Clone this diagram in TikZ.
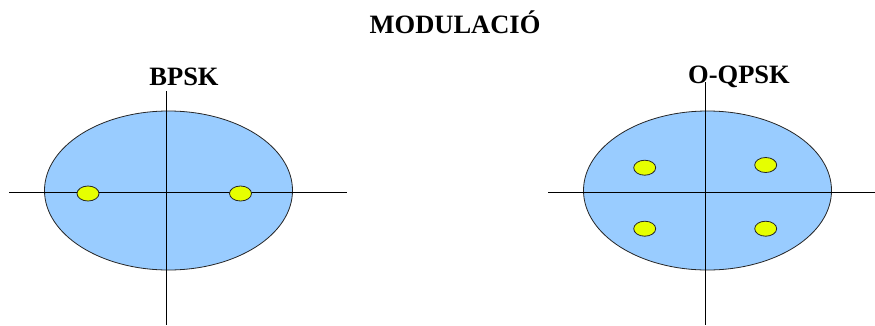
\documentclass[tikz,border=0pt]{standalone}
\usepackage{fontspec}
\setmainfont{Liberation Serif}
\usetikzlibrary{
  positioning,
  shapes.geometric
}
\definecolor{planeblue}{RGB}{153,204,255}
\definecolor{dotyellow}{RGB}{230,255,0}
\tikzset{plane/.style={
  ellipse,
  draw=black!85, line width=0.8pt,
  fill=planeblue,
  minimum width=248pt, minimum height=159pt,
  inner sep=0pt
}}
\tikzset{symbol/.style={
  ellipse,
  draw=black!85, line width=0.8pt,
  fill=dotyellow,
  minimum width=22pt, minimum height=15pt,
  inner sep=0pt
}}
\tikzset{axis/.style={
  draw, line width=0.9pt
}}
\tikzset{heading/.style={
  font=\bfseries\fontsize{26.5}{30}\selectfont,
  inner sep=0pt, anchor=base
}}

\begin{document}
\begin{tikzpicture}[x=1pt, y=-1pt]
  \useasboundingbox (0,0) rectangle (875,325);
  \node [heading] (title) at (455,33) {MODULACIÓ};

  % BPSK
  \node [plane] (bpsk) at (168.5,190.5) {};
  \coordinate (bpsk-w) at (9,192);
  \coordinate (bpsk-e) at (347,192);
  \coordinate (bpsk-n) at (166.5,91);
  \coordinate (bpsk-s) at (166.5,325);
  \draw [axis] (bpsk-w) -- (bpsk-e);
  \draw [axis] (bpsk-n) -- (bpsk-s);
  \node [symbol] (b1) at (88,193.5) {};
  \node [symbol] (b2) at (240.5,193.5) {};
  \node [heading] (bpsk-label) at (184,85) {BPSK};

  % O-QPSK
  \node [plane] (oqpsk) at (707.5,190.5) {};
  \coordinate (oqpsk-w) at (548,192);
  \coordinate (oqpsk-e) at (875,192);
  \coordinate (oqpsk-n) at (705.7,82);
  \coordinate (oqpsk-s) at (705.7,325);
  \draw [axis] (oqpsk-w) -- (oqpsk-e);
  \draw [axis] (oqpsk-n) -- (oqpsk-s);
  \node [symbol] (q1) at (644.7,167.7) {};
  \node [symbol] (q2) at (765.7,165) {};
  \node [symbol] (q3) at (644.7,228.7) {};
  \node [symbol] (q4) at (765.7,228.7) {};
  \node [heading] (oqpsk-label) at (739,83) {O-QPSK};
\end{tikzpicture}
\end{document}
